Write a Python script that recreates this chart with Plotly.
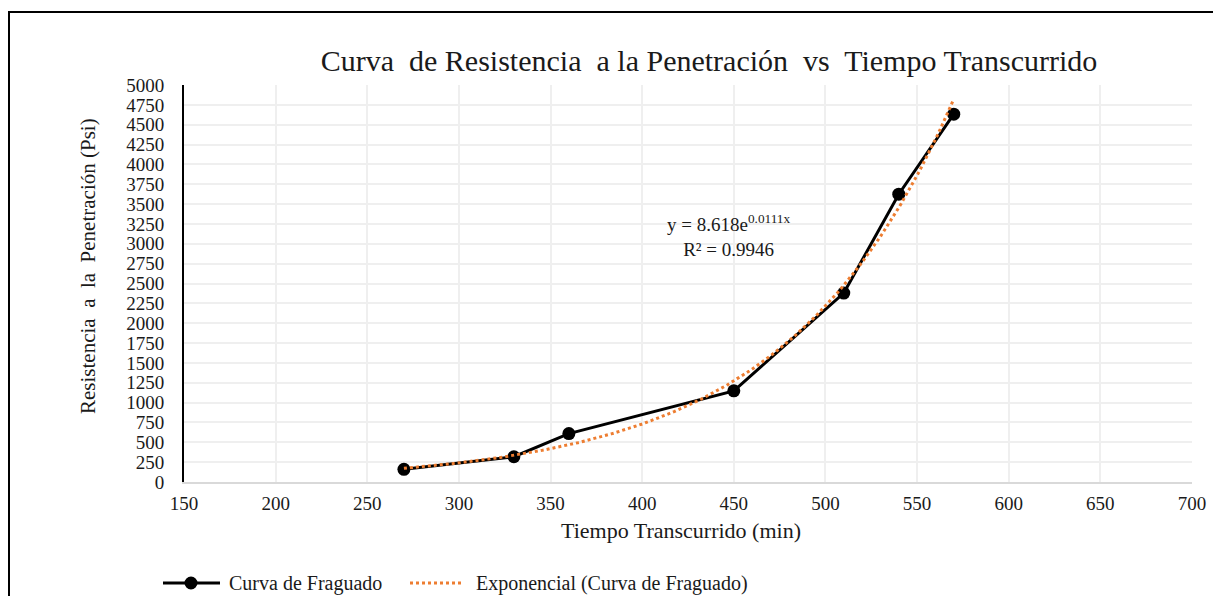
import numpy as np
import plotly.graph_objects as go

# Setting-time measurements
tiempo_min = [270, 330, 360, 450, 510, 540, 570]
resistencia_psi = [160, 318, 610, 1148, 2380, 3625, 4632]

# Exponential trendline: y = a * e^(b x)
coef_a = 8.618
coef_b = 0.0111
r2 = 0.9946

x_ticks = list(range(150, 701, 50))
y_ticks = list(range(0, 5001, 250))

serif = "Liberation Serif, Times New Roman, serif"
orange = "#ED7D31"
ink = "#1a1a1a"
nb = "\u00a0"

# plot-area geometry in pixels (used to place frame, titles and legend)
W, H = 1213, 596
L, R, T, B = 184, 21, 85, 114
PW, PH = W - L - R, H - T - B


def px(xpix):
    return (xpix - L) / PW


def py(ypix):
    return (H - B - ypix) / PH


x_fit = np.linspace(min(tiempo_min), max(tiempo_min), 200)
y_fit = coef_a * np.exp(coef_b * x_fit)

fig = go.Figure()
fig.add_trace(go.Scatter(
    x=tiempo_min, y=resistencia_psi, mode="lines+markers",
    name="Curva de Fraguado",
    line=dict(color="black", width=3),
    marker=dict(color="black", size=13),
))
fig.add_trace(go.Scatter(
    x=x_fit, y=y_fit, mode="lines",
    name="Exponencial (Curva de Fraguado)",
    line=dict(color=orange, width=3, dash="dot"),
))

fig.add_annotation(
    x=447, y=3110, xref="x", yref="y", showarrow=False,
    xanchor="center", yanchor="middle",
    text=f"y = {coef_a}e<sup>{coef_b}x</sup><br>R² = {r2}",
    font=dict(family=serif, size=19, color=ink), align="center",
)

# axis titles
fig.add_annotation(
    x=px(88), y=py(266), xref="paper", yref="paper", showarrow=False,
    xanchor="center", yanchor="middle",
    text=f"Resistencia{nb} a{nb} la{nb} Penetración (Psi)", textangle=-90,
    font=dict(family=serif, size=21, color=ink),
)
fig.add_annotation(
    x=px(681), y=py(530), xref="paper", yref="paper", showarrow=False,
    xanchor="center", yanchor="middle",
    text="Tiempo Transcurrido (min)",
    font=dict(family=serif, size=22, color=ink),
)

# outer chart frame
fig.add_shape(
    type="rect", xref="paper", yref="paper",
    x0=px(9), x1=px(W + 20), y0=py(H + 20), y1=py(12),
    line=dict(color="black", width=2), fillcolor="rgba(0,0,0,0)",
    layer="below",
)

# legend row below the axis
ly = py(583)
fig.add_shape(type="line", xref="paper", yref="paper",
              x0=px(163), x1=px(220), y0=ly, y1=ly,
              line=dict(color="black", width=3))
fig.add_shape(type="circle", xref="paper", yref="paper",
              xsizemode="pixel", ysizemode="pixel",
              xanchor=px(191), yanchor=ly, x0=-6.5, x1=6.5, y0=-6.5, y1=6.5,
              fillcolor="black", line=dict(color="black", width=0))
fig.add_annotation(x=px(227), y=ly, xref="paper", yref="paper",
                   xanchor="left", yanchor="middle", showarrow=False,
                   text="Curva de Fraguado",
                   font=dict(family=serif, size=20, color=ink))
fig.add_shape(type="line", xref="paper", yref="paper",
              x0=px(410), x1=px(463), y0=ly, y1=ly,
              line=dict(color=orange, width=3, dash="dot"))
fig.add_annotation(x=px(474), y=ly, xref="paper", yref="paper",
                   xanchor="left", yanchor="middle", showarrow=False,
                   text="Exponencial (Curva de Fraguado)",
                   font=dict(family=serif, size=20, color=ink))

fig.update_layout(
    width=W, height=H,
    margin=dict(l=L, r=R, t=T, b=B, autoexpand=False),
    paper_bgcolor="white", plot_bgcolor="white",
    font=dict(family=serif, color=ink),
    title=dict(
        text=f"Curva{nb} de Resistencia{nb} a la Penetración{nb} vs{nb} Tiempo Transcurrido",
        x=px(709), xanchor="center", xref="paper",
        y=1 - 60 / H, yanchor="middle",
        font=dict(family=serif, size=30, color=ink),
    ),
    showlegend=False,
    xaxis=dict(
        range=[150, 700], tickvals=x_ticks,
        showgrid=True, gridcolor="#efefef", gridwidth=2,
        showline=True, linecolor="#d9d9d9", linewidth=2,
        zeroline=False, ticks="", ticklabelstandoff=3,
        tickfont=dict(family=serif, size=19, color=ink),
        automargin=False,
    ),
    yaxis=dict(
        range=[0, 5000], tickvals=y_ticks,
        showgrid=True, gridcolor="#efefef", gridwidth=2,
        showline=True, linecolor="black", linewidth=2,
        zeroline=False, ticks="", ticklabelstandoff=14,
        tickfont=dict(family=serif, size=19, color=ink),
        automargin=False,
    ),
)

fig.write_html("out.html")
